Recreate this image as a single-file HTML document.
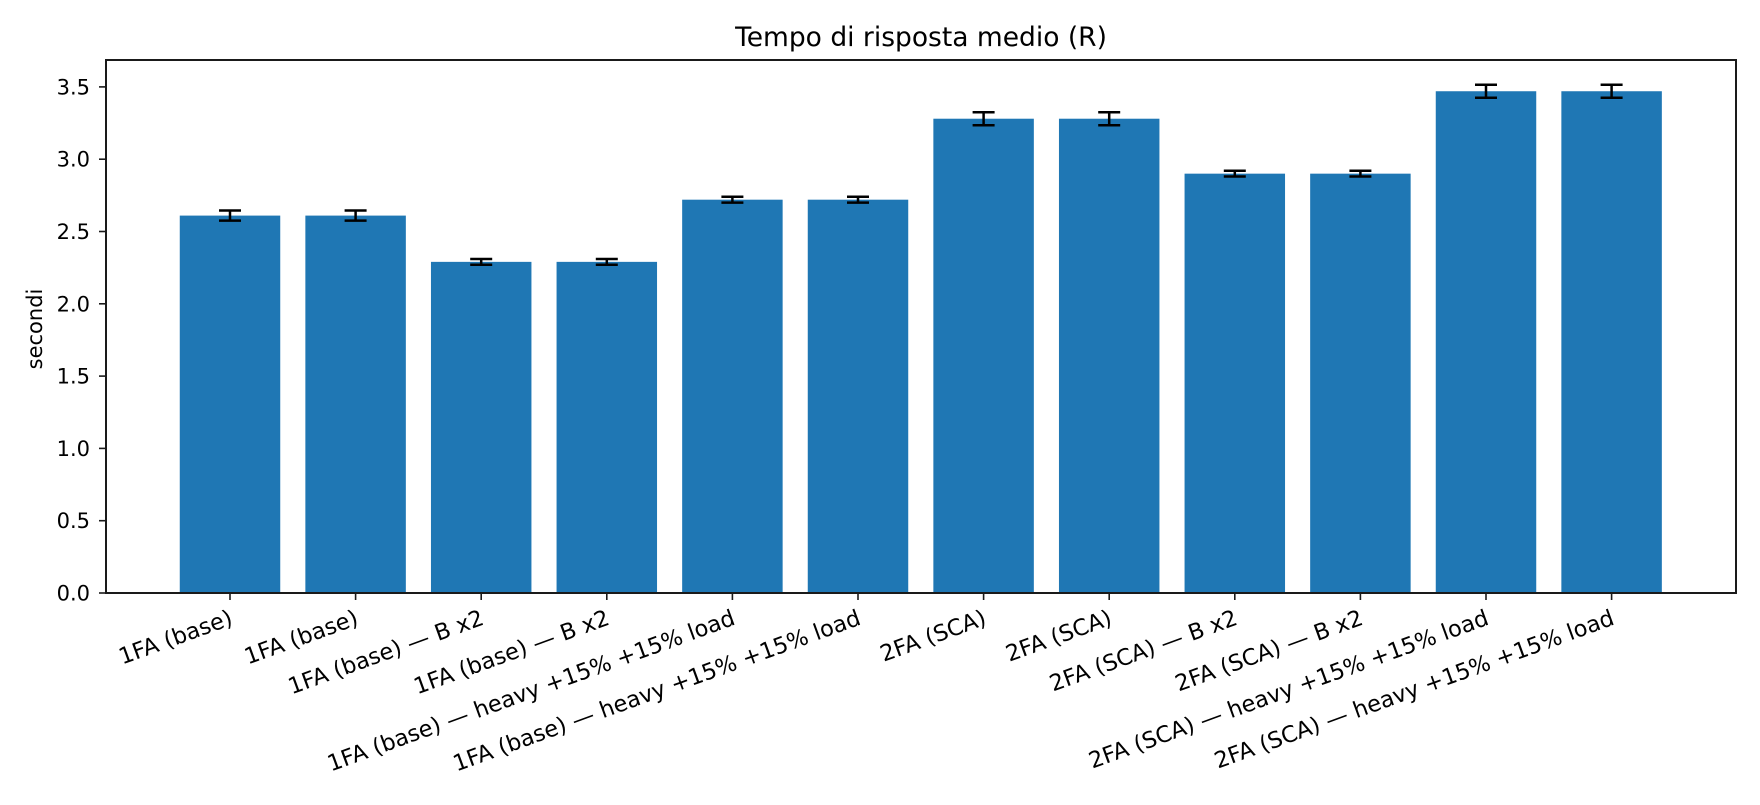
<!DOCTYPE html>
<html><head><meta charset="utf-8"><style>
body{margin:0;background:#fff;}
svg text{font-family:"DejaVu Sans","Liberation Sans",sans-serif;fill:#000;}
</style></head><body>
<svg id="chart" width="1760" height="800" xmlns="http://www.w3.org/2000/svg">
<rect width="1760" height="800" fill="#fff"/>
<text x="921" y="46" font-size="26.5" text-anchor="middle">Tempo di risposta medio (R)</text>
<text transform="translate(42,329) rotate(-90)" font-size="21" text-anchor="middle">secondi</text>
<g id="plot"></g>
<rect x="106" y="60" width="1630" height="533" fill="none" stroke="#1a1a1a" stroke-width="2"/>
</svg>
<script>
const categories = ["1FA (base)","1FA (base)","1FA (base) — B x2","1FA (base) — B x2","1FA (base) — heavy +15% +15% load","1FA (base) — heavy +15% +15% load","2FA (SCA)","2FA (SCA)","2FA (SCA) — B x2","2FA (SCA) — B x2","2FA (SCA) — heavy +15% +15% load","2FA (SCA) — heavy +15% +15% load"];
const values = [2.61,2.61,2.29,2.29,2.72,2.72,3.28,3.28,2.90,2.90,3.47,3.47];
const errors = [0.035,0.035,0.02,0.02,0.02,0.02,0.045,0.045,0.02,0.02,0.045,0.045];
const yTicks = [0.0,0.5,1.0,1.5,2.0,2.5,3.0,3.5];
const yTickLabels = ["0.0","0.5","1.0","1.5","2.0","2.5","3.0","3.5"];

const NS="http://www.w3.org/2000/svg";
const g=document.getElementById('plot');
const L=106,R=1736,T=60,B=593;
const yMax=(B-T)/144.6;
const y=v=>B-(v/yMax)*(B-T);
const step=125.6, x0=230;
const x=i=>x0+i*step;
const bw=0.8*step;
function el(tag,attrs){const e=document.createElementNS(NS,tag);for(const k in attrs)e.setAttribute(k,attrs[k]);g.appendChild(e);return e;}
yTicks.forEach((t,i)=>{
  const l=el('line',{x1:L-7,x2:L,y1:y(t),y2:y(t),stroke:'#1a1a1a','stroke-width':1.6});
  
  
  const tx=el('text',{x:L-16,y:y(t)+7.5,'font-size':21,'text-anchor':'end'});
  tx.textContent=yTickLabels[i];
  
  
});
values.forEach((v,i)=>{
  const r=el('rect',{x:x(i)-bw/2,y:y(v),width:bw,height:B-y(v),fill:'#1f77b4'});
  
  
  const e=errors[i];
  const eg=document.createElementNS(NS,'g');
  
  
  g.appendChild(eg);
  [[x(i),x(i),y(v+e),y(v-e)],[x(i)-11,x(i)+11,y(v+e),y(v+e)],[x(i)-11,x(i)+11,y(v-e),y(v-e)]].forEach(c=>{
    const ln=document.createElementNS(NS,'line');
    ln.setAttribute('x1',c[0]);ln.setAttribute('x2',c[1]);ln.setAttribute('y1',c[2]);ln.setAttribute('y2',c[3]);
    ln.setAttribute('stroke','#000');ln.setAttribute('stroke-width',2.5);
    eg.appendChild(ln);
  });
  const tk=el('line',{x1:x(i),x2:x(i),y1:B,y2:B+7,stroke:'#1a1a1a','stroke-width':1.6});
  
  
  const tx=el('text',{'font-size':22.5,'text-anchor':'end',transform:`translate(${x(i)+4},${B+31}) rotate(-20)`});
  tx.textContent=categories[i];
  
  
});
</script>
</body></html>
